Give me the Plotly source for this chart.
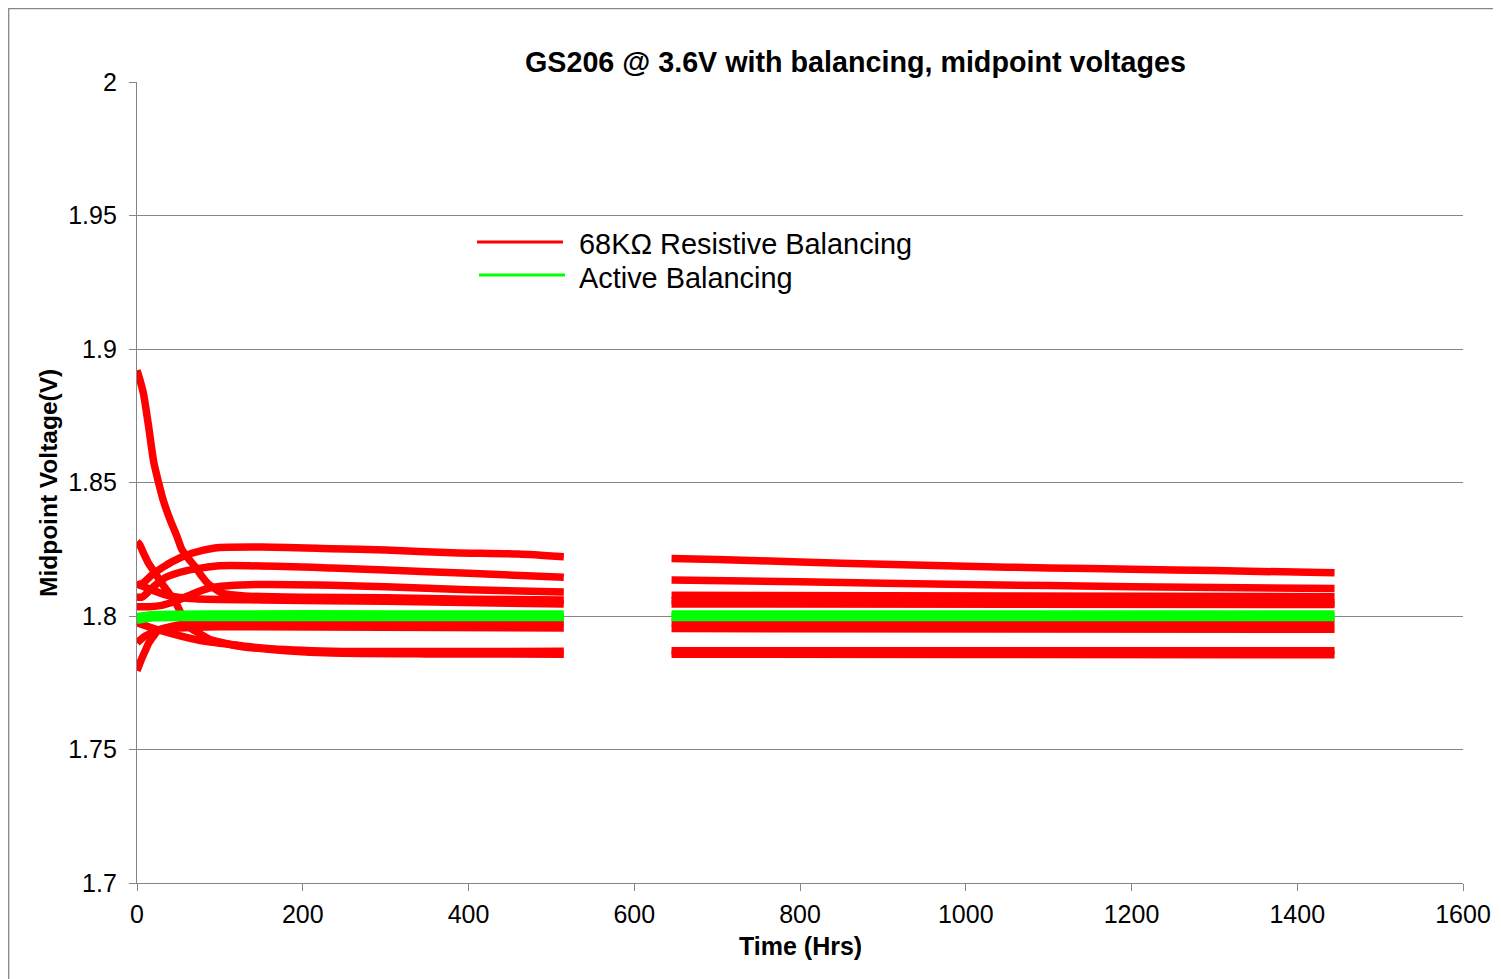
import plotly.graph_objects as go

# ---------------- data ----------------
# Each red series: segment 1 (0-515 h) and segment 2 (645-1445 h)
r1_t1 = [0, 8, 18, 30, 42, 66, 94, 150, 235, 300, 380, 460, 515]
r1_v1 = [1.8115, 1.8125, 1.8154, 1.818, 1.8203, 1.8235, 1.8255, 1.8258, 1.8252, 1.8247, 1.8237, 1.8232, 1.8222]
r1_t2 = [645, 700, 800, 900, 1000, 1100, 1200, 1300, 1445]
r1_v2 = [1.8215, 1.8212, 1.8202, 1.8194, 1.8186, 1.818, 1.8175, 1.817, 1.8162]

r2_t1 = [0, 7, 20, 35, 60, 100, 235, 300, 400, 515]
r2_v1 = [1.807, 1.8072, 1.811, 1.8145, 1.817, 1.8188, 1.818, 1.8172, 1.816, 1.8145]
r2_t2 = [645, 800, 1000, 1200, 1445]
r2_v2 = [1.8135, 1.8128, 1.8118, 1.811, 1.8103]

r3_t1 = [0, 15, 30, 46, 65, 86, 110, 150, 300, 400, 515]
r3_v1 = [1.8035, 1.8035, 1.804, 1.8055, 1.808, 1.8104, 1.8113, 1.8118, 1.811, 1.8098, 1.809]
r3_t2 = [645, 900, 1200, 1445]
r3_v2 = [1.8078, 1.8076, 1.8074, 1.8072]

r4_t1 = [0, 3, 8, 14, 20, 26, 32, 40, 48, 54, 62, 70, 78, 86, 95, 103, 130, 200, 300, 400, 515]
r4_v1 = [1.892, 1.889, 1.883, 1.871, 1.858, 1.85, 1.843, 1.836, 1.83, 1.825, 1.8215, 1.8185,
         1.815, 1.812, 1.81, 1.8085, 1.8075, 1.807, 1.8068, 1.8063, 1.806]
r4_t2 = [645, 1000, 1445]
r4_v2 = [1.8058, 1.8055, 1.805]

r5_t1 = [0, 3, 8, 14, 22, 30, 38, 46, 54, 62, 75, 90, 110, 127, 180, 235, 350, 515]
r5_v1 = [1.8278, 1.8268, 1.8235, 1.8197, 1.816, 1.8122, 1.8088, 1.8054, 1.8005, 1.796, 1.7935,
         1.791, 1.7895, 1.7885, 1.787, 1.7861, 1.7858, 1.7857]
r5_t2 = [645, 1000, 1445]
r5_v2 = [1.7857, 1.7856, 1.7855]

r6_t1 = [0, 5, 10, 14, 20, 26, 40, 60, 100, 300, 515]
r6_v1 = [1.7795, 1.7835, 1.787, 1.7898, 1.7925, 1.7948, 1.796, 1.797, 1.7975, 1.7976, 1.7975]
r6_t2 = [645, 1000, 1445]
r6_v2 = [1.7975, 1.7975, 1.7975]

r7_t1 = [0, 10, 25, 50, 100, 515]
r7_v1 = [1.79, 1.7925, 1.7945, 1.7955, 1.796, 1.7955]
r7_t2 = [645, 1445]
r7_v2 = [1.7953, 1.795]

r8_t1 = [0, 26, 74, 154, 235, 515]
r8_v1 = [1.7975, 1.7948, 1.791, 1.7879, 1.7868, 1.7868]
r8_t2 = [645, 1445]
r8_v2 = [1.787, 1.787]

r9_t1 = [0, 20, 40, 70, 150, 300, 515]
r9_v1 = [1.812, 1.8095, 1.8075, 1.8065, 1.806, 1.8055, 1.8045]
r9_t2 = [645, 1445]
r9_v2 = [1.8045, 1.8043]

g1_t1 = [0, 20, 100, 300, 515]
g1_v1 = [1.7996, 1.8004, 1.8006, 1.8006, 1.8006]
g1_t2 = [645, 1000, 1445]
g1_v2 = [1.8006, 1.8006, 1.8006]

g2_t1 = [0, 20, 100, 300, 515]
g2_v1 = [1.7986, 1.7995, 1.7996, 1.7996, 1.7996]
g2_t2 = [645, 1000, 1445]
g2_v2 = [1.7996, 1.7996, 1.7996]

red_series = [
    (r1_t1, r1_v1, r1_t2, r1_v2), (r2_t1, r2_v1, r2_t2, r2_v2), (r3_t1, r3_v1, r3_t2, r3_v2),
    (r4_t1, r4_v1, r4_t2, r4_v2), (r5_t1, r5_v1, r5_t2, r5_v2), (r6_t1, r6_v1, r6_t2, r6_v2),
    (r7_t1, r7_v1, r7_t2, r7_v2), (r8_t1, r8_v1, r8_t2, r8_v2), (r9_t1, r9_v1, r9_t2, r9_v2),
]
green_series = [(g1_t1, g1_v1, g1_t2, g1_v2), (g2_t1, g2_v1, g2_t2, g2_v2)]

x_ticks = [0, 200, 400, 600, 800, 1000, 1200, 1400, 1600]
y_ticks = [1.7, 1.75, 1.8, 1.85, 1.9, 1.95, 2.0]
y_tick_text = ["1.7", "1.75", "1.8", "1.85", "1.9", "1.95", "2"]

title_text = "GS206 @ 3.6V with balancing, midpoint voltages"
legend_names = ["68KΩ Resistive Balancing", "Active Balancing"]

RED = "#FF0000"
GREEN = "#00FF00"
GRAY = "#868686"
FONT = "Liberation Sans, Arial, sans-serif"

# The page body adds an 8px offset, so figure coordinates = page coordinates - 8
OFF = 8
W, H = 1501, 979
L, R, T, B = 137 - OFF, 1463 - OFF, 82 - OFF, 883 - OFF


def px(xpage):
    return (xpage - OFF - L) / (R - L)


def py(ypage):
    return (B - (ypage - OFF)) / (B - T)


fig = go.Figure()


def add_series(s, color, width):
    t1, v1, t2, v2 = s
    fig.add_trace(go.Scatter(
        x=list(t1) + [None] + list(t2),
        y=list(v1) + [None] + list(v2),
        mode="lines", line=dict(color=color, width=width, shape="spline", smoothing=0.6),
        connectgaps=False, showlegend=False, hoverinfo="skip"))


for s in red_series:
    add_series(s, RED, 7.5)
for s in green_series:
    add_series(s, GREEN, 8.5)

shapes = [
    # outer chart border (figure edge)
    dict(type="rect", xref="paper", yref="paper",
         x0=px(8.7), x1=px(1560), y0=py(1040), y1=py(8.7),
         line=dict(color=GRAY, width=1.3)),
    # legend samples
    dict(type="line", xref="paper", yref="paper", x0=px(477), x1=px(563), y0=py(242), y1=py(242),
         line=dict(color=RED, width=3)),
    dict(type="line", xref="paper", yref="paper", x0=px(479), x1=px(565), y0=py(275), y1=py(275),
         line=dict(color=GREEN, width=3)),
]

annotations = [
    dict(text="<b>" + title_text + "</b>", xref="paper", yref="paper", x=px(855), y=py(62),
         xanchor="center", yanchor="middle", showarrow=False, font=dict(size=28.7, family=FONT, color="black")),
    dict(text="<b>Time (Hrs)</b>", xref="paper", yref="paper", x=px(800), y=py(946),
         xanchor="center", yanchor="middle", showarrow=False, font=dict(size=25, family=FONT, color="black")),
    dict(text="<b>Midpoint Voltage(V)</b>", xref="paper", yref="paper", x=px(48), y=py(483),
         xanchor="center", yanchor="middle", textangle=-90, showarrow=False,
         font=dict(size=24.5, family=FONT, color="black")),
    dict(text=legend_names[0], xref="paper", yref="paper", x=px(577), y=py(244),
         xanchor="left", yanchor="middle", showarrow=False, font=dict(size=28.9, family=FONT, color="black")),
    dict(text=legend_names[1], xref="paper", yref="paper", x=px(577), y=py(278),
         xanchor="left", yanchor="middle", showarrow=False, font=dict(size=28.9, family=FONT, color="black")),
]

fig.update_layout(
    width=W, height=H,
    margin=dict(l=L, r=W - R, t=T, b=H - B, pad=0),
    paper_bgcolor="white", plot_bgcolor="white",
    font=dict(family=FONT, color="black", size=25),
    showlegend=False,
    shapes=shapes, annotations=annotations,
    xaxis=dict(range=[0, 1600], tickvals=x_ticks, ticks="outside", ticklen=7, tickcolor=GRAY,
               tickwidth=1.3, showline=True, linecolor=GRAY, linewidth=1.3, showgrid=False,
               zeroline=False, ticklabelstandoff=2,
               tickfont=dict(size=25, family=FONT, color="black")),
    yaxis=dict(range=[1.7, 2.0], tickvals=y_ticks, ticktext=y_tick_text, ticks="outside",
               ticklen=7, tickcolor=GRAY, tickwidth=1.3, showline=True, linecolor=GRAY,
               linewidth=1.3, showgrid=True, gridcolor=GRAY, gridwidth=1.3, zeroline=False,
               ticklabelstandoff=7,
               tickfont=dict(size=25, family=FONT, color="black")),
)

fig.write_html("out.html")
